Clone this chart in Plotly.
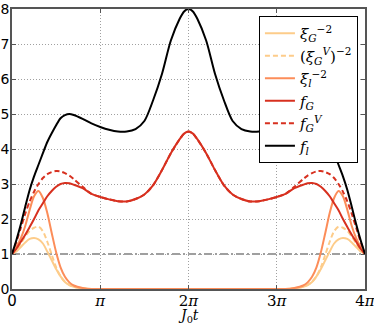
import plotly.graph_objects as go

# time axis in units of pi
t = [0, 0.05, 0.1, 0.15, 0.2, 0.25, 0.3, 0.35, 0.4, 0.45, 0.5, 0.55, 0.6, 0.65, 0.7, 0.8, 0.9,
     1.0, 1.1, 1.2, 1.3, 1.4, 1.5, 1.6, 1.7, 1.8, 1.9, 1.95, 2.0, 2.05,
     2.1, 2.2, 2.3, 2.4, 2.5, 2.6, 2.7, 2.8, 2.9, 3.0,
     3.1, 3.2, 3.3, 3.35, 3.4, 3.45, 3.5, 3.55, 3.6, 3.65, 3.7, 3.75, 3.8, 3.85, 3.9, 3.95, 4.0]

xi_G = [1.0, 1.07, 1.2, 1.33, 1.43, 1.46, 1.42, 1.3, 1.07, 0.82, 0.57, 0.36, 0.2, 0.11, 0.06, 0.02, 0.0,
        0, 0, 0, 0, 0, 0, 0, 0, 0, 0, 0, 0, 0,
        0, 0, 0, 0, 0, 0, 0, 0, 0, 0,
        0.0, 0.02, 0.06, 0.11, 0.2, 0.36, 0.57, 0.82, 1.07, 1.3, 1.42, 1.46, 1.43, 1.33, 1.2, 1.07, 1.0]

xi_GV = [1.0, 1.12, 1.3, 1.5, 1.66, 1.75, 1.78, 1.65, 1.35, 0.98, 0.62, 0.36, 0.21, 0.12, 0.06, 0.02, 0.0,
         0, 0, 0, 0, 0, 0, 0, 0, 0, 0, 0, 0, 0,
         0, 0, 0, 0, 0, 0, 0, 0, 0, 0,
         0.0, 0.02, 0.06, 0.12, 0.21, 0.36, 0.62, 0.98, 1.35, 1.65, 1.78, 1.75, 1.66, 1.5, 1.3, 1.12, 1.0]

xi_l = [1.0, 1.2, 1.45, 1.8, 2.26, 2.65, 2.8, 2.6, 2.17, 1.6, 1.05, 0.62, 0.35, 0.19, 0.1, 0.03, 0.0,
        0, 0, 0, 0, 0, 0, 0, 0, 0, 0, 0, 0, 0,
        0, 0, 0, 0, 0, 0, 0, 0, 0, 0,
        0.0, 0.03, 0.1, 0.19, 0.35, 0.62, 1.05, 1.6, 2.17, 2.6, 2.8, 2.65, 2.26, 1.8, 1.45, 1.2, 1.0]

f_G = [1.0, 1.15, 1.35, 1.55, 1.77, 2.0, 2.25, 2.45, 2.65, 2.8, 2.92, 3.0, 3.03, 3.02, 2.98, 2.88, 2.72,
       2.63, 2.56, 2.51, 2.5, 2.57, 2.7, 2.97, 3.4, 3.88, 4.28, 4.44, 4.5, 4.44,
       4.28, 3.88, 3.4, 2.97, 2.7, 2.57, 2.5, 2.51, 2.56, 2.63,
       2.72, 2.88, 2.98, 3.02, 3.03, 3.0, 2.92, 2.8, 2.65, 2.45, 2.25, 2.0, 1.77, 1.55, 1.35, 1.15, 1.0]

f_GV = [1.0, 1.35, 1.75, 2.15, 2.5, 2.78, 3.0, 3.17, 3.28, 3.34, 3.37, 3.36, 3.31, 3.24, 3.14, 2.92, 2.72,
        2.63, 2.56, 2.51, 2.5, 2.57, 2.7, 2.97, 3.4, 3.88, 4.28, 4.44, 4.5, 4.44,
        4.28, 3.88, 3.4, 2.97, 2.7, 2.57, 2.5, 2.51, 2.56, 2.63,
        2.72, 2.92, 3.14, 3.24, 3.31, 3.36, 3.37, 3.34, 3.28, 3.17, 3.0, 2.78, 2.5, 2.15, 1.75, 1.35, 1.0]

f_l = [1.0, 1.4, 1.85, 2.35, 2.83, 3.22, 3.55, 3.88, 4.2, 4.45, 4.68, 4.88, 4.97, 5.0, 4.97, 4.86, 4.73,
       4.63, 4.55, 4.5, 4.5, 4.57, 4.8, 5.4, 6.15, 7.1, 7.72, 7.93, 8.0, 7.93,
       7.72, 7.1, 6.15, 5.4, 4.8, 4.57, 4.5, 4.5, 4.55, 4.63,
       4.73, 4.86, 4.97, 5.0, 4.97, 4.88, 4.68, 4.45, 4.2, 3.88, 3.55, 3.22, 2.83, 2.35, 1.85, 1.4, 1.0]

xtick_vals = [0, 1, 2, 3, 4]
xtick_text = ["<span style='font-family:DejaVu Sans'>0</span>", "<i>π</i>", "2<i>π</i>", "3<i>π</i>", "4<i>π</i>"]

series = [
    ("<i>ξ</i><sub><i>G</i></sub><sup>−2</sup>", xi_G, "#fdcc8a", "solid"),
    ("(<i>ξ</i><sub><i>G</i></sub><sup><i>V</i></sup>)<sup>−2</sup>", xi_GV, "#fdcc8a", "5px,3px"),
    ("<i>ξ</i><sub><i>l</i></sub><sup>−2</sup>", xi_l, "#fc8d59", "solid"),
    ("<i>f</i><sub><i>G</i></sub>", f_G, "#d7301f", "solid"),
    ("<i>f</i><sub><i>G</i></sub><sup><i>V</i></sup>", f_GV, "#d7301f", "5px,3px"),
    ("<i>f</i><sub><i>l</i></sub>", f_l, "black", "solid"),
]

fig = go.Figure()
for i, (name, y, color, dash) in enumerate(series):
    fig.add_trace(go.Scatter(x=t, y=y, name=name, mode="lines", legendgroup=str(i),
                             line=dict(color=color, width=2, dash=dash, shape="spline", smoothing=0.8)))

fig.add_hline(y=1, line=dict(color="#808080", width=1.5, dash="8px,3px,2px,3px"), layer="below")

fig.update_layout(
    width=374, height=323,
    margin=dict(l=12, r=9, t=9, b=34),
    plot_bgcolor="white", paper_bgcolor="white",
    font=dict(family="DejaVu Serif", size=15, color="black"),
    legend=dict(x=0.98, y=0.975, xanchor="right", yanchor="top",
                bordercolor="black", borderwidth=1, bgcolor="white",
                tracegroupgap=0,
                font=dict(family="DejaVu Serif", size=15)),
    annotations=[dict(text="<i>J</i><sub>0</sub><i>t</i>", x=0.5, y=-0.097, xref="paper", yref="paper",
                      xanchor="center", yanchor="middle", showarrow=False,
                      font=dict(family="DejaVu Serif", size=14))],
)
fig.update_xaxes(range=[0, 4], tickvals=xtick_vals, ticktext=xtick_text, automargin=False,
                 ticklabeloverflow="allow", ticklabelstandoff=-3,
                 showgrid=True, gridcolor="#a0a0a0", griddash="1px,2px", gridwidth=1,
                 showline=True, linecolor="#555", linewidth=1.5, mirror="ticks",
                 ticks="inside", ticklen=4, tickcolor="#555",
                 tickfont=dict(family="DejaVu Serif", size=15),
                 zeroline=False)
fig.update_yaxes(range=[0, 8], dtick=1, automargin=False,
                 ticklabeloverflow="allow", ticklabelstandoff=-2,
                 showgrid=True, gridcolor="#a0a0a0", griddash="1px,2px", gridwidth=1,
                 showline=True, linecolor="#555", linewidth=1.5, mirror="ticks",
                 ticks="inside", ticklen=4, tickcolor="#555",
                 tickfont=dict(family="DejaVu Sans", size=14),
                 zeroline=False)

fig.write_html("out.html", config={"displayModeBar": False},
               post_script="document.body.style.margin='0';")
